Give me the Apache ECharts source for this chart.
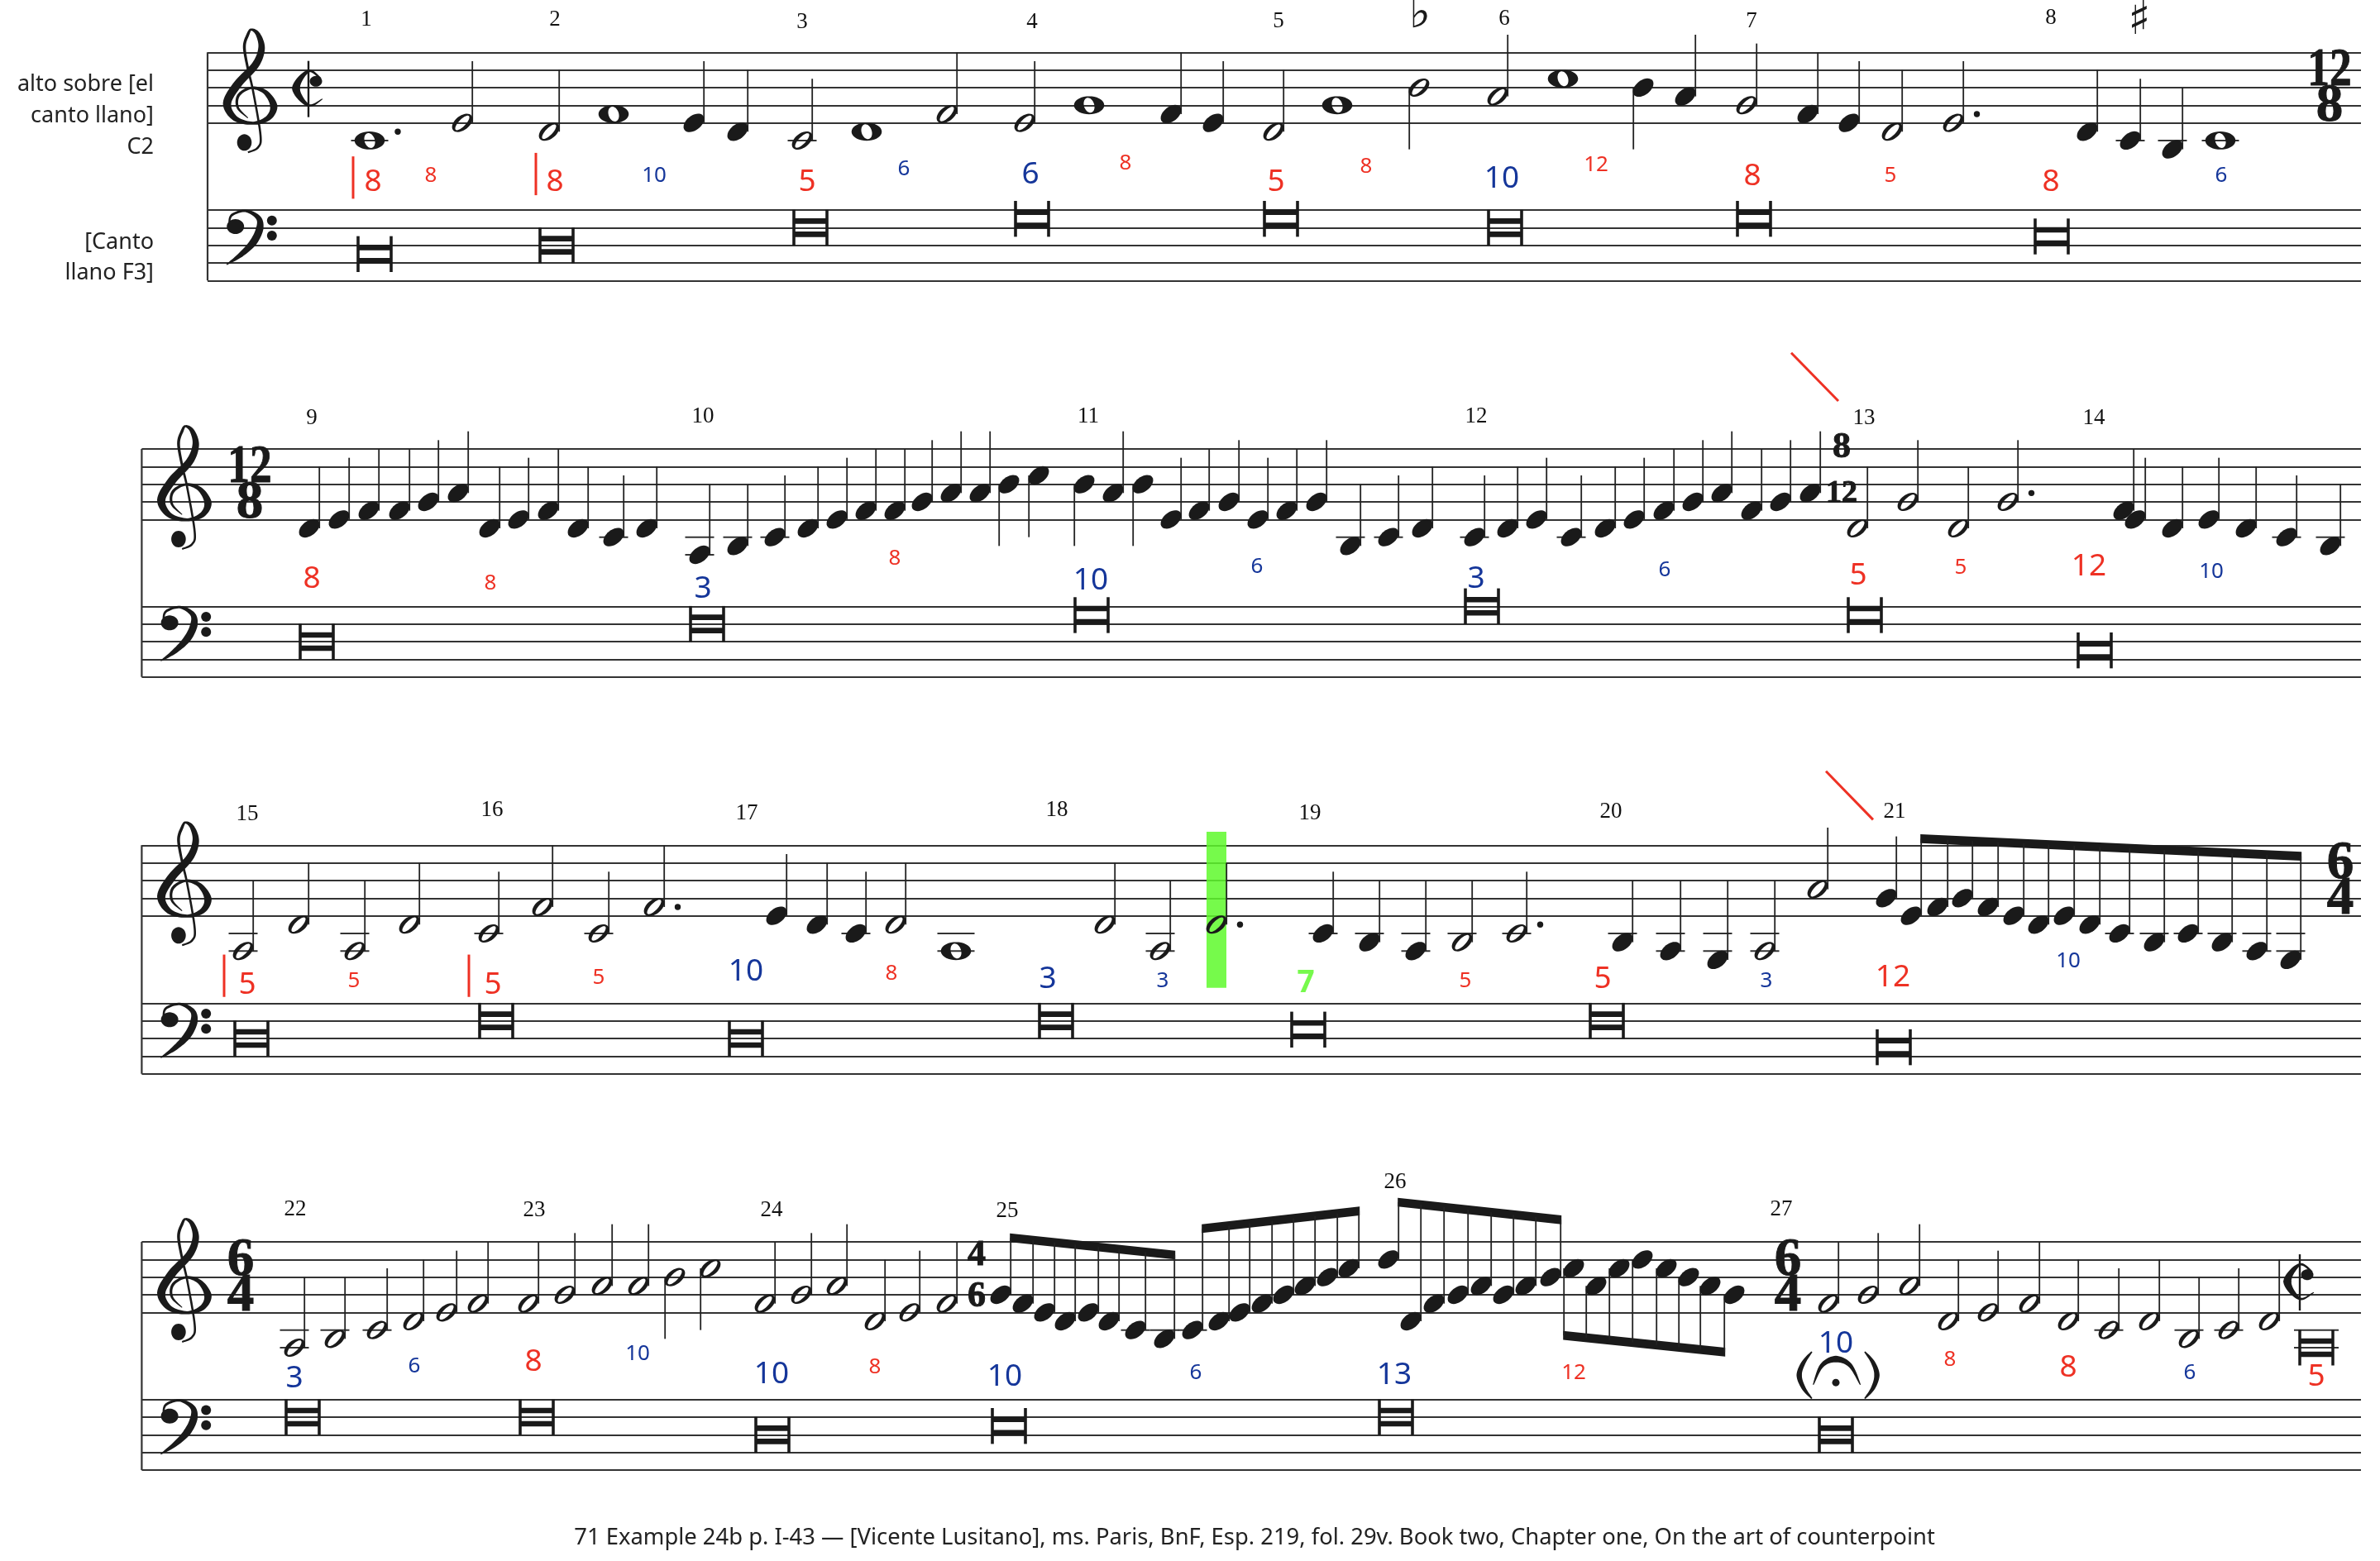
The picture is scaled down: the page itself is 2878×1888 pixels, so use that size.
<!DOCTYPE html>
<html><head><meta charset="utf-8"><style>html,body{margin:0;background:#fff}#c{width:2878px;height:1888px}</style>
<script src="https://cdn.jsdelivr.net/npm/echarts@6/dist/echarts.min.js"></script></head><body><div id="c"></div>
<script>
// ---------- score data: x = position along the system, step = staff step (0 = bottom line, 8 = top line)
const caption = '71 Example 24b p. I-43 — [Vicente Lusitano], ms. Paris, BnF, Esp. 219, fol. 29v. Book two, Chapter one, On the art of counterpoint';

const notes1X = [447,559,664,742,839,892,970,1048,1145,1239,1317,1416,1467,1540,1617,1716,1811,1890,1987,2038,2112,2186,2236,2288,2362,2524,2576,2627,2685];
const notes1Step = [-2,0,-1,1,0,-1,-2,-1,1,0,2,1,0,-1,2,4,3,5,4,3,2,1,0,-1,0,-1,-2,-3,-2];
const notes1Kind = 'w. h h w q q h w h h w q q h w hd h w qd q h q q h h. q q q w'.split(' ');

const notes2X = [374,410,446,483,518,554,592,627,663,699,742,782,846,892,937,977,1012,1047,1082,1115,1150,1185,1220,1256,1311,1346,1382,1416,1450,1486,1521,1556,1592,1633,1679,1720,1783,1823,1858,1900,1941,1976,2012,2047,2082,2118,2153,2189,2246,2307,2368,2428,2568,2582,2627,2671,2716,2765,2818];
const notes2Step = [-1,0,1,1,2,3,-1,0,1,-1,-2,-1,-4,-3,-2,-1,0,1,1,2,3,3,4,5,4,3,4,0,1,2,0,1,2,-3,-2,-1,-2,-1,0,-2,-1,0,1,2,3,1,2,3,-1,2,-1,2,1,0,-1,0,-1,-2,-3];
const notes2Kind = 'q q q q q q q q q q q q q q q q q q q q q q qd qd qd q qd q q q q q q q q q q q q q q q q q q q q q h h h h. q q q q q q q'.split(' ');

const notes3X = [294,361,429,495,591,656,724,791,939,988,1035,1083,1156,1336,1403,1471,1600,1656,1712,1768,1834,1962,2020,2077,2134,2198,2281,2311,2343,2373,2404,2435,2465,2496,2527,2563,2605,2646,2687,2729,2770];
const notes3Step = [-4,-1,-4,-1,-2,1,-2,1,0,-1,-2,-1,-4,-1,-4,-1,-2,-3,-4,-3,-2,-3,-4,-5,-4,3,2,0,1,2,1,0,-1,0,-1,-2,-3,-2,-3,-4,-5];
const notes3Kind = 'h h h h h h h h. q q q h w h h h. q q q h h. q q q h h q b b b b b b b b b b b b b b'.split(' ');

const notes4X = [356,405,456,500,540,578,639,683,728,772,816,859,925,969,1012,1058,1100,1145,1210,1237,1263,1288,1316,1341,1373,1408,1442,1474,1499,1526,1552,1578,1605,1631,1679,1706,1734,1763,1791,1818,1845,1875,1903,1930,1958,1986,2015,2042,2068,2097,2211,2259,2309,2356,2404,2454,2501,2550,2599,2647,2695,2744,2801];
const notes4Step = [-4,-3,-2,-1,0,1,1,2,3,3,4,5,1,2,3,-1,0,1,2,1,0,-1,0,-1,-2,-3,-2,-1,0,1,2,3,4,5,6,-1,1,2,3,2,3,4,5,3,5,6,5,4,3,2,1,2,3,-1,0,1,-1,-2,-1,-3,-2,-1,-4];
const notes4Kind = 'h h h h h h h h h h hd hd h h h h h h b b b b b b b b b b b b b b b b b b b b b b b b p p p p p p p p h h h h h h h h h h h h B'.split(' ');

// beams: first note, last note, upper edge (step) at first and last stem
const beams3 = [[27,40,9.25,7.25]];
const beams4 = [[18,25,8.97,7],[26,33,10,12],[34,41,13,11],[42,49,-2.1,-4]];

const chant1X = [453,673,980,1248,1549,1820,2121,2481];
const chant1Step = [3,4,6,7,7,6,7,5];
const chant2X = [383,855,1320,1792,2255,2533];
const chant2Step = [4,6,7,8,7,3];
const chant3X = [304,600,902,1277,1582,1943,2290];
const chant3Step = [4,6,4,6,5,6,3];
const chant4X = [366,649,934,1220,1688,2220];
const chant4Step = [6,6,4,5,6,4];

const interval1 = [8,8,8,10,5,6,6,8,5,8,10,12,8,5,8,6];
const interval1X = [451,521,671,791,976,1093,1246,1361,1543,1652,1816,1930,2119,2286,2480,2686];
const interval1Step = [-6.5,-5.8,-6.5,-5.8,-6.5,-5.06,-5.66,-4.44,-6.5,-4.8,-6.2,-4.6,-5.9,-5.8,-6.5,-5.8];
const interval1Strong = [1,0,1,0,1,0,1,0,1,0,1,0,1,0,1,0];

const interval2 = [8,8,3,8,10,6,3,6,5,5,12,10];
const interval2X = [377,593,850,1082,1319,1520,1785,2013,2247,2371,2526,2674];
const interval2Step = [-6.56,-7.03,-7.66,-4.28,-6.8,-5.16,-6.56,-5.53,-6.16,-5.3,-5.16,-5.7];
const interval2Strong = [1,0,1,0,1,0,1,0,1,0,1,0];

const interval3 = [5,5,5,5,10,8,3,3,7,5,5,3,12,10];
const interval3X = [299,428,596,724,902,1078,1267,1406,1579,1772,1938,2136,2289,2501];
const interval3Step = [-7.7,-7.2,-7.7,-6.8,-6.2,-6.34,-7.06,-7.2,-7.44,-7.2,-7.06,-7.2,-6.84,-5];
const interval3Strong = [1,0,1,0,1,0,1,0,1,0,1,0,1,0];

const interval4 = [3,6,8,10,10,8,10,6,13,12,10,8,8,6,5];
const interval4X = [356,501,645,771,933,1058,1215,1446,1686,1903,2220,2358,2501,2648,2801];
const interval4Step = [-7.28,-5.9,-5.47,-4.5,-6.9,-6.03,-7.1,-6.7,-6.94,-6.7,-3.34,-5.16,-6.06,-6.7,-7.1];
const interval4Strong = [1,0,1,0,1,0,1,0,1,0,1,0,1,0,1];

const measure1 = [1,2,3,4,5,6,7,8];
const measure1X = [443,671,970,1248,1546,1819,2118,2480];
const measure1Step = [11.7,11.7,11.4,11.4,11.5,11.8,11.5,11.9];
const measure2 = [9,10,11,12,13,14];
const measure2X = [377,850,1316,1785,2254,2532];
const measure2Step = [11.5,11.65,11.65,11.65,11.5,11.5];
const measure3 = [15,16,17,18,19,20,21];
const measure3X = [299,595,903,1278,1584,1948,2291];
const measure3Step = [11.5,11.98,11.6,11.98,11.6,11.75,11.75];
const measure4 = [22,23,24,25,26,27];
const measure4X = [357,646,933,1218,1687,2154];
const measure4Step = [11.7,11.56,11.56,11.5,14.8,11.66];

const voiceUpper = ['alto sobre [el','canto llano]','C2'];
const voiceUpperStep = [4.3,0.8,-2.75];
const voiceLower = ['[Canto','llano F3]'];
const voiceLowerStep = [4.3,0.8];

// meter signs: x, step, text, large(1) or small(0)
const meters1 = [[2817,6,'12',1],[2817,2,'8',1]];
const meters2 = [[302,6,'12',1],[302,2,'8',1],[2227,8.3,'8',0],[2227,3.1,'12',0]];
const meters3 = [[2830,6,'6',1],[2830,2,'4',1]];
const meters4 = [[291,6,'6',1],[291,2,'4',1],[1181,6.66,'4',0],[1181,1.97,'6',0],[2162,6,'6',1],[2162,2,'4',1]];
const cutTime = [[0,373,3.84],[3,2781,3.4]];
const accidentals = [[1717,12.2,'♭'],[2587,11.5,'♯']];
const redBars = [[0,427,-3.8,-8.6],[0,648,-3.4,-8.2],[2,271,-4.4,-9.2],[2,567,-4.4,-9.2]];
const redSlashes = [[1,2166,18.9,2223,13.44],[2,2208,16.4,2265,10.9]];
const greenBand = [2,1459,1483,9.53,-8.16];
const fermata = [3,2220,-5.3];

// ---------- layout
const trebleTop = [63.3,543,1022.3,1502];
const bassTop = [254,733.3,1213.3,1692.7];
const staffLeft = [251,171.4,171.4,171.4];
const staffRight = 2855, staffH = 85.33;
const INK = '#1a1a1a', RED = '#ee3124', BLUE = '#15369a', GREEN = '#76f94c';
const serif = '"Liberation Serif"', sans = '"Noto Sans"';

// ---------- glyph helpers
function ell(cx,cy,a,b,deg,rev){
  const t=deg*Math.PI/180,p=[];
  for(let i=0;i<36;i++){const u=(rev?-1:1)*i/36*2*Math.PI,x=a*Math.cos(u),y=b*Math.sin(u);
    p.push((cx+x*Math.cos(t)+y*Math.sin(t)).toFixed(2)+' '+(cy+x*Math.sin(t)-y*Math.cos(t)).toFixed(2));}
  return 'M'+p.join('L')+'Z';
}
function brush(pts,ox,oy){ // variable-width stroke outline along a smooth centre line
  const s=[];const n=pts.length;
  for(let i=0;i<n-1;i++){
    const p0=pts[Math.max(i-1,0)],p1=pts[i],p2=pts[i+1],p3=pts[Math.min(i+2,n-1)];
    for(let k=0;k<10;k++){const t=k/10,t2=t*t,t3=t2*t;
      const f=j=>0.5*(2*p1[j]+(p2[j]-p0[j])*t+(2*p0[j]-5*p1[j]+4*p2[j]-p3[j])*t2+(3*p1[j]-p0[j]-3*p2[j]+p3[j])*t3);
      s.push([f(0),f(1),p1[2]+(p2[2]-p1[2])*t]);}
  }
  s.push(pts[n-1]);
  const L=[],R=[];
  s.forEach((q,i)=>{const a=s[Math.max(i-1,0)],b=s[Math.min(i+1,s.length-1)];
    let dx=b[0]-a[0],dy=b[1]-a[1],d=Math.hypot(dx,dy)||1;dx/=d;dy/=d;
    L.push((ox+q[0]-dy*q[2]/2).toFixed(2)+' '+(oy+q[1]+dx*q[2]/2).toFixed(2));
    R.unshift((ox+q[0]+dy*q[2]/2).toFixed(2)+' '+(oy+q[1]-dx*q[2]/2).toFixed(2));});
  return 'M'+L.concat(R).join('L')+'Z';
}
const TREBLE=[[-4.2,57,2],[8,51,2.6],[11,36,2.6],[2,-17.3,2.6],[-4.2,-44,3],[-8.5,-70.6,3.5],[-4.2,-85.6,3.5],[0,-91.6,2.5],[8,-85.6,5.5],[12.3,-69,8],[5,-49,9],[-16.5,-25.6,10],[-29.4,-2.3,10],[-19.5,16,6.5],[2,21.7,3.5],[20.3,15.4,6.5],[27,1,9],[17,-15.6,5.5],[0,-21,3],[-15.3,-12.3,3.5],[-16.5,2.7,3],[-4.2,15.4,1]];
const BASS=[[-13,-5.3,2],[-9.5,-15.3,3],[7,-20.3,3],[22.3,-12,6],[24,1.3,9],[16,18,9],[0.9,33,6],[-16,44.7,1]];
const CUT=[[15,-12.7,2],[0,-21.7,3],[-15,-1,10],[0,19.7,3],[17,12,1]];
const ARC=[[-27.4,31,1],[-16.9,7.7,5],[0,0,8],[17.4,7.7,5],[29.6,31,1]];
const PAREN_L=[[-29,-9,1.5],[-39,4,5],[-44.3,19.3,6.5],[-39,35,5],[-29,47.7,1.5]];
const PAREN_R=[[34.9,-9,1.5],[44.9,4,5],[49.6,19.3,6.5],[44.9,35,5],[34.9,47.7,1.5]];
const ink=d=>({type:'path',shape:{pathData:d},style:{fill:INK}});
const rule=(x1,y1,x2,y2,w,c)=>({type:'line',shape:{x1,y1,x2,y2},style:{stroke:c||INK,lineWidth:w}});
const label=(x,y,text,size,fam,fill,weight,align,sx,heavy)=>({type:'text',x,y,scaleX:sx||1,style:Object.assign({text:String(text),fontSize:size,fontFamily:fam,fontWeight:weight||'normal',fill,align:align||'center',verticalAlign:'middle'},heavy?{stroke:fill,lineWidth:heavy}:{})});

// ---------- series builders
const series=[],grids=[],xAxes=[],yAxes=[];
function addStaff(sys,top){
  const i=grids.length;
  grids.push({left:staffLeft[sys],top,width:staffRight-staffLeft[sys],height:staffH,containLabel:false,outerBoundsMode:'none',show:false});
  xAxes.push({type:'value',gridIndex:i,min:staffLeft[sys],max:staffRight,show:false});
  yAxes.push({type:'value',gridIndex:i,min:0,max:8,interval:2,axisLabel:{show:false},axisTick:{show:false},axisLine:{show:false},
    splitLine:{show:true,lineStyle:{color:'#333',width:2}}});
  return i;
}
function custom(grid,name,rows,draw,z){
  series.push({type:'custom',name,coordinateSystem:'cartesian2d',xAxisIndex:grid,yAxisIndex:grid,silent:true,clip:false,z:z||2,
    data:rows.map(r=>[r.x,r.y]),encode:{x:0,y:1},renderItem:(p,api)=>draw(rows[p.dataIndex],api)});
}
function drawNote(r,api){
  const [cx,cy]=api.coord([r.x,r.y]),kids=[];
  const k=r.kind[0],down=r.kind==='hd'||r.kind==='qd'||k==='p',dotted=r.kind.endsWith('.');
  const hw=k==='w'?22.5:k==='B'?27:17.5;
  for(let s=-2;s>=r.y;s-=2){const ly=api.coord([r.x,s])[1];kids.push(rule(cx-hw,ly,cx+hw,ly,2,'#333'));}
  if(k!=='w'&&k!=='B'){
    const end=r.stemEnd!=null?r.stemEnd:down?r.y-7:Math.max(r.y+7,4);
    const sx=cx+(down?-11.8:12.2);
    kids.push(rule(sx,cy,sx,api.coord([r.x,end])[1],1.8,'#222'));
  }
  if(k==='w')kids.push(ink(ell(cx,cy,18.3,10.9,0)+ell(cx,cy,9.2,6.2,72,true)));
  else if(k==='h')kids.push(ink(ell(cx,cy,14.2,8.6,-38)+ell(cx,cy,11.5,4.2,-46,true)));
  else if(k==='B'){
    [-20,20].forEach(d=>kids.push(rule(cx+d,cy-21.5,cx+d,cy+21.5,3.5)));
    [-8,8].forEach(d=>kids.push({type:'rect',shape:{x:cx-20,y:cy+d-3.3,width:40,height:6.6},style:{fill:INK}}));
  } else kids.push(ink(ell(cx,cy,14.2,8.8,-38)));
  if(dotted){const dy=api.coord([r.x,r.y+(((r.y%2)+2)%2===0?1:0)])[1];kids.push({type:'circle',shape:{cx:cx+(k==='w'?34:28.5),cy:dy,r:3.7},style:{fill:INK}});}
  return {type:'group',children:kids};
}
function noteRows(X,S,K,beams){
  const rows=X.map((x,i)=>({x,y:S[i],kind:K[i]}));
  (beams||[]).forEach(([a,b,t1,t2])=>{
    const off=K[a]==='p'?-11.8:12.2,x1=X[a]+off,x2=X[b]+off;
    for(let i=a;i<=b;i++){const v=t1+(t2-t1)*((X[i]+off-x1)/(x2-x1));rows[i].stemEnd=v-0.5;}
  });
  return rows;
}
function drawBreve(r,api){
  const [cx,cy]=api.coord([r.x,r.y]);
  return {type:'group',children:[
    rule(cx-20,cy-21.7,cx-20,cy+21.7,3.6),rule(cx+20,cy-21.7,cx+20,cy+21.7,3.6),
    {type:'rect',shape:{x:cx-20,y:cy-11.3,width:40,height:6.6},style:{fill:INK}},
    {type:'rect',shape:{x:cx-20,y:cy+4.7,width:40,height:6.6},style:{fill:INK}}]};
}
function drawInterval(r,api){
  const [x,y]=api.coord([r.x,r.y]);
  const c=r.v===7?GREEN:[5,8,12].includes(r.v)?RED:BLUE;
  return label(x,y+2,r.v,r.strong?37:26,sans,c,r.v===7?'bold':'normal');
}
function drawMeasure(r,api){const [x,y]=api.coord([r.x,r.y]);return label(x,y,r.v,27,serif,'#111');}
function drawMeter(r,api){
  const [x,y]=api.coord([r.x,r.y]);const two=r.t.length>1;
  return label(x,y+2,r.t,r.big?65:(two?38:44),serif,INK,'bold','center',two&&r.big?0.82:1,1);
}
function drawTreble(r,api){const [x,y]=api.coord([r.x,r.y]);return ink(brush(TREBLE,x,y)+ell(x-8.5,y+45,8.8,10,0));}
function drawBass(r,api){const [x,y]=api.coord([r.x,r.y]);
  return {type:'group',children:[ink(brush(BASS,x,y)+ell(x-5.3,y-1.3,10.5,9,0)),
    {type:'circle',shape:{cx:x+38.8,cy:y-8.6,r:6},style:{fill:INK}},{type:'circle',shape:{cx:x+38.8,cy:y+9.7,r:6},style:{fill:INK}}]};}
function drawCut(r,api){const [x,y]=api.coord([r.x,r.y]);
  return {type:'group',children:[ink(brush(CUT,x,y)+ell(x+9,y-9.3,7.5,6.5,0)),rule(x,y-34,x,y+34,2.4)]};}

const allNotes=[[notes1X,notes1Step,notes1Kind,null],[notes2X,notes2Step,notes2Kind,null],[notes3X,notes3Step,notes3Kind,beams3],[notes4X,notes4Step,notes4Kind,beams4]];
const allChant=[[chant1X,chant1Step],[chant2X,chant2Step],[chant3X,chant3Step],[chant4X,chant4Step]];
const allInt=[[interval1,interval1X,interval1Step,interval1Strong],[interval2,interval2X,interval2Step,interval2Strong],[interval3,interval3X,interval3Step,interval3Strong],[interval4,interval4X,interval4Step,interval4Strong]];
const allMeas=[[measure1,measure1X,measure1Step],[measure2,measure2X,measure2Step],[measure3,measure3X,measure3Step],[measure4,measure4X,measure4Step]];
const allMeters=[meters1,meters2,meters3,meters4];

trebleTop.forEach((top,s)=>{
  const g=addStaff(s,top),b=addStaff(s,bassTop[s]),L=staffLeft[s];
  // left barline joining both staves
  const drop=(bassTop[s]+staffH-top-staffH)/(staffH/8);
  custom(g,'bar',[{x:L,y:8,end:-drop}],(r,api)=>{const [x,y]=api.coord([r.x,r.y]);return rule(x,y,x,api.coord([r.x,r.end])[1],2.2,'#333');});
  if(greenBand[0]===s){const [,x1,x2,y1,y2]=greenBand;
    custom(g,'band',[{x:x1,y:y1,x2,y2}],(r,api)=>{const a=api.coord([r.x,r.y]),c=api.coord([r.x2,r.y2]);
      return {type:'rect',shape:{x:a[0],y:a[1],width:c[0]-a[0],height:c[1]-a[1]},style:{fill:'rgba(94,249,44,0.85)'}};},1);}
  custom(g,'treble clef',[{x:L+53,y:2}],drawTreble);
  custom(b,'bass clef',[{x:L+39,y:6}],drawBass);
  const [nx,ns,nk,bm]=allNotes[s];
  custom(g,'beams',(bm||[]).map(([a,e,t1,t2])=>{const off=nk[a]==='p'?-11.8:12.2;return {x:nx[a]+off,y:t1,x2:nx[e]+off,y2:t2};}),(r,api)=>{
    const A=api.coord([r.x,r.y]),B=api.coord([r.x2,r.y2]),t=api.size([0,1])[1];
    return {type:'polygon',shape:{points:[[A[0]-1,A[1]],[B[0]+1,B[1]],[B[0]+1,B[1]+t],[A[0]-1,A[1]+t]]},style:{fill:INK}};});
  custom(g,'notes',noteRows(nx,ns,nk,bm),drawNote,3);
  const [cx,cs]=allChant[s];
  custom(b,'cantus',cx.map((x,i)=>({x,y:cs[i]})),drawBreve,3);
  const [iv,ix,is,ib]=allInt[s];
  custom(g,'intervals',iv.map((v,i)=>({x:ix[i],y:is[i],v,strong:ib[i]})),drawInterval,4);
  const [mv,mx,ms]=allMeas[s];
  custom(g,'measures',mv.map((v,i)=>({x:mx[i],y:ms[i],v})),drawMeasure,4);
  custom(g,'meters',allMeters[s].map(m=>({x:m[0],y:m[1],t:m[2],big:m[3]})),drawMeter,4);
  custom(g,'cut time',cutTime.filter(c=>c[0]===s).map(c=>({x:c[1],y:c[2]})),drawCut,4);
  custom(g,'red bars',redBars.filter(c=>c[0]===s).map(c=>({x:c[1],y:c[2],y2:c[3]})),(r,api)=>{const a=api.coord([r.x,r.y]);return rule(a[0],a[1],a[0],api.coord([r.x,r.y2])[1],3,RED);},4);
  custom(g,'red slashes',redSlashes.filter(c=>c[0]===s).map(c=>({x:c[1],y:c[2],x2:c[3],y2:c[4]})),(r,api)=>{const a=api.coord([r.x,r.y]),e=api.coord([r.x2,r.y2]);return rule(a[0],a[1],e[0],e[1],3,RED);},4);
  if(s===0){
    custom(g,'accidentals',accidentals.map(c=>({x:c[0],y:c[1],t:c[2]})),(r,api)=>{const a=api.coord([r.x,r.y]);return label(a[0],a[1],r.t,56,'"DejaVu Sans"',INK);},4);
    custom(g,'voice',voiceUpper.map((t,i)=>({x:186,y:voiceUpperStep[i],t})),(r,api)=>{const a=api.coord([r.x,r.y]);return label(a[0],a[1],r.t,27,sans,'#222','normal','right');},4);
    custom(b,'voice',voiceLower.map((t,i)=>({x:186,y:voiceLowerStep[i],t})),(r,api)=>{const a=api.coord([r.x,r.y]);return label(a[0],a[1],r.t,27,sans,'#222','normal','right');},4);
  }
  if(fermata[0]===s){
    custom(g,'fermata',[{x:fermata[1],y:fermata[2]}],(r,api)=>{const [x,y]=api.coord([r.x,r.y]);
      return {type:'group',children:[ink(brush(ARC,x,y)+brush(PAREN_L,x,y)+brush(PAREN_R,x,y)),{type:'circle',shape:{cx:x,cy:y+28.3,r:4.5},style:{fill:INK}}]};},4);
  }
});

const chart=echarts.init(document.getElementById('c'),null,{renderer:'canvas'});
chart.setOption({animation:false,backgroundColor:'#fff',
  title:{text:caption,left:1512,top:1842,textAlign:'center',textStyle:{fontFamily:sans,fontSize:27.4,fontWeight:'normal',color:'#222'}},
  grid:grids,xAxis:xAxes,yAxis:yAxes,series});
</script></body></html>
